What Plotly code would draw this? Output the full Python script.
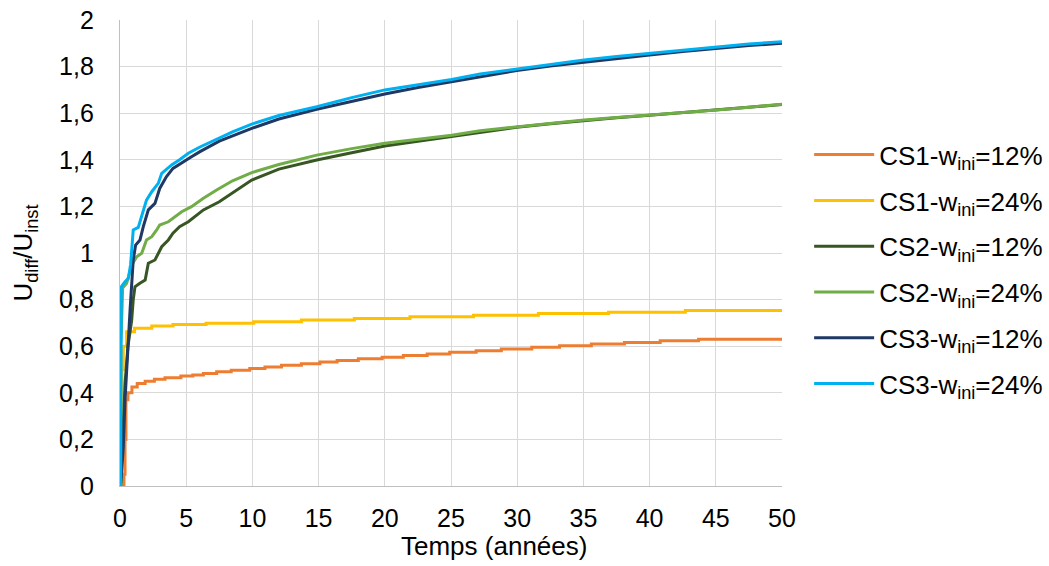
import plotly.graph_objects as go

# CS1 - w_ini = 12 %
t_cs1_12 = [0, 0.3, 0.38, 0.45, 0.6, 0.9, 1.3, 1.9, 2.6, 3.4, 4.6, 5.5, 6.3, 7.3, 8.4, 9.8, 10.95, 12.2,
            13.7, 15.1, 16.4, 18.0, 19.8, 21.4, 23.2, 24.9, 26.9, 28.8, 31.1, 33.2, 35.6, 38.1, 40.8, 43.7, 50]
v_cs1_12 = [0, 0.05, 0.2, 0.37, 0.40, 0.425, 0.44, 0.45, 0.458, 0.465, 0.472, 0.476, 0.483, 0.490, 0.497,
            0.504, 0.511, 0.518, 0.525, 0.532, 0.539, 0.546, 0.553, 0.560, 0.567, 0.574, 0.581, 0.588,
            0.595, 0.602, 0.609, 0.616, 0.623, 0.630, 0.630]

# CS1 - w_ini = 24 %
t_cs1_24 = [0, 0.1, 0.15, 0.25, 0.5, 1.1, 2.4, 4.0, 6.5, 10.1, 13.7, 17.7, 21.9, 26.7, 31.6, 36.9, 42.7, 50]
v_cs1_24 = [0, 0.3, 0.5, 0.6, 0.662, 0.677, 0.687, 0.693, 0.698, 0.705, 0.712, 0.719, 0.726, 0.733,
            0.740, 0.746, 0.753, 0.760]

# CS2 - w_ini = 12 %
t_cs2_12 = [0.05, 0.2, 0.38, 0.6, 0.88, 1.0, 1.13, 1.5, 1.9, 2.14, 2.64, 3.15, 3.65, 4.0, 4.5, 5.16, 5.66,
            6.3, 7.5, 8.8, 9.95, 12, 14.86, 17.5, 20, 22.5, 25, 27.2, 29.96, 32.5, 35.05, 37.5, 40, 42.5,
            45.07, 47.5, 50]
v_cs2_12 = [0, 0.2, 0.44, 0.6, 0.71, 0.80, 0.855, 0.87, 0.884, 0.956, 0.97, 1.027, 1.056, 1.085, 1.113,
            1.134, 1.156, 1.185, 1.22, 1.27, 1.313, 1.36, 1.399, 1.43, 1.459, 1.48, 1.50, 1.52, 1.54,
            1.555, 1.569, 1.58, 1.591, 1.602, 1.613, 1.625, 1.637]

# CS2 - w_ini = 24 %
t_cs2_24 = [0, 0.03, 0.1, 0.2, 0.5, 0.9, 1.26, 1.64, 2.0, 2.4, 2.77, 3.0, 3.65, 4.15, 4.66, 5.4, 6.3, 7.3,
            8.5, 9.95, 12, 14.86, 17.5, 20, 22.5, 25.05, 27.2, 29.96, 32.5, 35.05, 37.5, 40, 42.5, 45.07,
            47.5, 50]
v_cs2_24 = [0, 0.6, 0.66, 0.85, 0.87, 0.95, 0.984, 0.999, 1.056, 1.07, 1.099, 1.12, 1.134, 1.156, 1.177,
            1.199, 1.235, 1.27, 1.31, 1.345, 1.38, 1.42, 1.448, 1.471, 1.487, 1.505, 1.525, 1.542, 1.557,
            1.571, 1.582, 1.592, 1.603, 1.614, 1.626, 1.638]

# CS3 - w_ini = 12 %
t_cs3_12 = [0.05, 0.25, 0.38, 0.5, 0.63, 0.76, 1.0, 1.18, 1.51, 1.76, 2.14, 2.64, 3.0, 3.5, 4.0, 4.66, 5.4,
            6.04, 7.5, 9.95, 12, 14.86, 17.5, 20, 22.5, 25, 27.2, 29.96, 32.5, 35.05, 37.5, 40, 42.5,
            45.07, 47.5, 50]
v_cs3_12 = [0, 0.169, 0.37, 0.51, 0.61, 0.755, 0.97, 1.034, 1.056, 1.113, 1.185, 1.213, 1.277, 1.327,
            1.363, 1.385, 1.413, 1.435, 1.48, 1.535, 1.575, 1.617, 1.652, 1.682, 1.71, 1.735, 1.758,
            1.783, 1.803, 1.82, 1.836, 1.85, 1.865, 1.879, 1.89, 1.90]

# CS3 - w_ini = 24 %
t_cs3_24 = [0.05, 0.1, 0.38, 0.63, 0.8, 1.0, 1.38, 1.64, 2.0, 2.4, 2.9, 3.15, 3.9, 4.5, 5.16, 6.04, 7.3,
            8.5, 9.95, 12, 14.86, 17.5, 20, 22.5, 25.05, 27.2, 29.96, 32.5, 35.05, 37.5, 40, 42.5, 45.07,
            47.5, 50]
v_cs3_24 = [0, 0.855, 0.877, 0.891, 0.95, 1.099, 1.11, 1.156, 1.227, 1.263, 1.30, 1.342, 1.378, 1.40,
            1.428, 1.455, 1.49, 1.52, 1.553, 1.59, 1.628, 1.667, 1.70, 1.722, 1.745, 1.768, 1.79, 1.81,
            1.828, 1.843, 1.857, 1.872, 1.886, 1.897, 1.907]

names = ["CS1-w<sub>ini</sub>=12%", "CS1-w<sub>ini</sub>=24%", "CS2-w<sub>ini</sub>=12%",
         "CS2-w<sub>ini</sub>=24%", "CS3-w<sub>ini</sub>=12%", "CS3-w<sub>ini</sub>=24%"]
colors = ["#ED7D31", "#FFC000", "#375623", "#70AD47", "#1F3864", "#00B0F0"]
series = [(t_cs1_12, v_cs1_12, "hv"), (t_cs1_24, v_cs1_24, "hv"), (t_cs2_12, v_cs2_12, "linear"),
          (t_cs2_24, v_cs2_24, "linear"), (t_cs3_12, v_cs3_12, "linear"), (t_cs3_24, v_cs3_24, "linear")]

x_title = "Temps (années)"
y_title = "U<sub>diff</sub>/U<sub>inst</sub>"

FONT = "Liberation Sans, Arial, sans-serif"
FS_TICK = 25
FS_TEXT = 26

fig = go.Figure()
for i, ((t, v, shape), name, col) in enumerate(zip(series, names, colors)):
    fig.add_trace(go.Scatter(x=t, y=v, mode="lines", name=name, legendgroup=str(i),
                             line=dict(color=col, width=3, shape=shape)))

fig.add_annotation(text=x_title, xref="paper", yref="paper", x=(494 - 120) / 662, y=(486 - 546) / 466,
                   xanchor="center", yanchor="middle", showarrow=False,
                   font=dict(family=FONT, size=FS_TEXT, color="#000000"))

fig.update_layout(
    width=1049, height=566,
    margin=dict(l=120, r=267, t=20, b=80, autoexpand=False),
    paper_bgcolor="white", plot_bgcolor="white",
    separators=", ",
    font=dict(family=FONT, size=FS_TICK, color="#000000"),
    legend=dict(x=1.041, y=0.7614, xanchor="left", yanchor="top",
                traceorder="grouped", tracegroupgap=9,
                font=dict(family=FONT, size=FS_TEXT, color="#000000"),
                itemwidth=60, bgcolor="rgba(0,0,0,0)"),
    xaxis=dict(range=[0, 50], tickmode="linear", tick0=0, dtick=5, automargin=False,
               showgrid=True, gridcolor="#D9D9D9", gridwidth=1.3,
               showline=True, linecolor="#BFBFBF", linewidth=1.3, mirror=False,
               zeroline=False, ticks="", tickfont=dict(size=FS_TICK), ticklabelstandoff=10),
    yaxis=dict(range=[0, 2], tickmode="linear", tick0=0, dtick=0.2, automargin=False,
               showgrid=True, gridcolor="#D9D9D9", gridwidth=1.3,
               showline=True, linecolor="#BFBFBF", linewidth=1.3,
               zeroline=False, ticks="", tickfont=dict(size=FS_TICK), ticklabelstandoff=20,
               title=dict(text=y_title, font=dict(size=FS_TEXT), standoff=18)),
)

fig.write_html("out.html", config={"displayModeBar": False},
               post_script="document.body.style.margin='0';")
